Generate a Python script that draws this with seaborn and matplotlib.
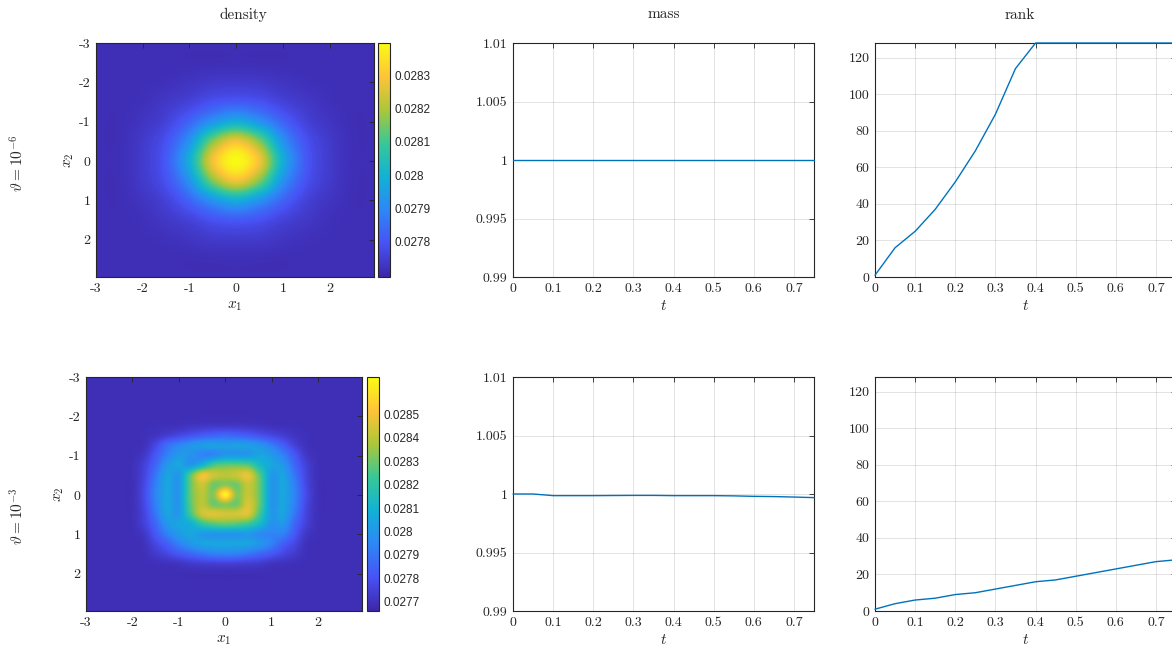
import numpy as np
import matplotlib
matplotlib.use("Agg")
import matplotlib.pyplot as plt
from matplotlib.colors import LinearSegmentedColormap, Normalize
import seaborn as sns

# ---- data ----
t = [0, 0.05, 0.1, 0.15, 0.2, 0.25, 0.3, 0.35, 0.4, 0.45, 0.5, 0.55, 0.6, 0.65, 0.7, 0.75]

mass_1e6 = [1.0, 1.0, 1.0, 1.0, 1.0, 1.0, 1.0, 1.0, 1.0, 1.0, 1.0, 1.0, 1.0, 1.0, 1.0, 1.0]
mass_1e3 = [1.0, 1.0, 0.99986, 0.99986, 0.99986, 0.99987, 0.99988, 0.99988,
            0.99986, 0.99986, 0.99986, 0.99984, 0.9998, 0.99978, 0.99974, 0.99969]

rank_1e6 = [1, 16, 25, 37, 52, 69, 89, 114, 128, 128, 128, 128, 128, 128, 128, 128]
rank_1e3 = [1, 4, 6, 7, 9, 10, 12, 14, 16, 17, 19, 21, 23, 25, 27, 28]

# density, theta = 1e-6 : 13x13 samples, x,y = -3..3 step 0.5 (units 1e-4)
dens_1e6 = [
    [277.15, 277.15, 277.15, 277.15, 277.15, 277.15, 277.15, 277.15, 277.15, 277.15, 277.15, 277.15, 277.15],
    [277.15, 277.15, 277.15, 277.15, 277.15, 277.16, 277.17, 277.16, 277.15, 277.15, 277.15, 277.15, 277.15],
    [277.15, 277.15, 277.16, 277.2, 277.3, 277.42, 277.45, 277.42, 277.3, 277.2, 277.16, 277.15, 277.15],
    [277.15, 277.15, 277.2, 277.38, 277.6, 277.95, 278.1, 277.95, 277.6, 277.38, 277.2, 277.15, 277.15],
    [277.15, 277.15, 277.3, 277.6, 278.3, 279.25, 279.9, 279.25, 278.3, 277.6, 277.3, 277.15, 277.15],
    [277.15, 277.16, 277.42, 277.95, 279.25, 281.6, 282.8, 281.6, 279.25, 277.95, 277.42, 277.16, 277.15],
    [277.15, 277.17, 277.45, 278.1, 279.9, 282.8, 283.95, 282.8, 279.9, 278.1, 277.45, 277.17, 277.15],
    [277.15, 277.16, 277.42, 277.95, 279.25, 281.6, 282.8, 281.6, 279.25, 277.95, 277.42, 277.16, 277.15],
    [277.15, 277.15, 277.3, 277.6, 278.3, 279.25, 279.9, 279.25, 278.3, 277.6, 277.3, 277.15, 277.15],
    [277.15, 277.15, 277.2, 277.38, 277.6, 277.95, 278.1, 277.95, 277.6, 277.38, 277.2, 277.15, 277.15],
    [277.15, 277.15, 277.16, 277.2, 277.3, 277.42, 277.45, 277.42, 277.3, 277.2, 277.16, 277.15, 277.15],
    [277.15, 277.15, 277.15, 277.15, 277.15, 277.16, 277.17, 277.16, 277.15, 277.15, 277.15, 277.15, 277.15],
    [277.15, 277.15, 277.15, 277.15, 277.15, 277.15, 277.15, 277.15, 277.15, 277.15, 277.15, 277.15, 277.15],
]

# density, theta = 1e-3 : 17x17 samples, x,y = -2..2 step 0.25 (units 1e-4), flat outside
dens_1e3_bg = 276.9
dens_1e3 = [
    [276.9, 276.9, 276.9, 276.9, 276.9, 276.9, 276.9, 276.9, 276.9, 276.9, 276.9, 276.9, 276.9, 276.9, 276.9, 276.9, 276.9],
    [276.9, 276.9, 276.95, 276.95, 277.0, 277.1, 277.15, 277.2, 277.2, 277.2, 277.15, 277.1, 277.0, 276.95, 276.95, 276.9, 276.9],
    [276.9, 276.95, 277.1, 277.4, 277.7, 278.0, 278.3, 278.5, 278.6, 278.5, 278.3, 278.0, 277.7, 277.4, 277.1, 276.95, 276.9],
    [276.9, 277.0, 277.7, 278.8, 279.4, 279.9, 280.2, 280.3, 280.2, 280.3, 280.2, 279.9, 279.2, 278.4, 277.5, 277.0, 276.9],
    [276.92, 277.2, 278.2, 279.3, 280.1, 279.9, 279.4, 279.5, 280.0, 280.0, 280.1, 280.5, 280.1, 279.3, 278.2, 277.2, 276.92],
    [276.95, 277.5, 278.6, 280.0, 280.5, 280.0, 281.0, 282.4, 282.8, 282.8, 282.6, 281.3, 280.5, 280.0, 278.6, 277.5, 276.95],
    [276.95, 277.6, 279.0, 280.4, 280.1, 282.6, 284.8, 284.3, 284.0, 284.3, 284.7, 282.6, 280.1, 280.4, 279.0, 277.6, 276.95],
    [276.95, 277.7, 279.3, 280.5, 280.0, 282.8, 284.3, 283.0, 283.3, 283.0, 284.2, 282.8, 280.0, 280.5, 279.3, 277.7, 276.95],
    [276.95, 277.8, 279.4, 280.5, 280.0, 282.8, 284.0, 283.3, 286.5, 283.3, 284.2, 282.8, 280.0, 280.5, 279.4, 277.8, 276.95],
    [276.95, 277.7, 279.3, 280.5, 280.0, 282.7, 284.0, 283.0, 283.3, 283.0, 284.5, 282.8, 280.0, 280.5, 279.3, 277.7, 276.95],
    [276.95, 277.6, 279.0, 280.4, 280.1, 282.3, 284.2, 284.6, 284.4, 284.4, 284.5, 282.3, 280.1, 280.4, 279.0, 277.6, 276.95],
    [276.95, 277.5, 278.6, 280.0, 280.5, 280.8, 282.0, 282.6, 282.8, 282.6, 282.2, 281.2, 279.9, 280.0, 278.6, 277.5, 276.95],
    [276.92, 277.2, 278.2, 279.3, 280.1, 280.5, 280.1, 280.0, 280.0, 280.0, 280.1, 279.6, 279.4, 279.3, 278.2, 277.2, 276.92],
    [276.9, 277.0, 277.7, 278.4, 279.3, 280.0, 280.4, 280.5, 280.5, 280.5, 280.4, 280.0, 279.3, 278.4, 277.7, 277.0, 276.9],
    [276.9, 276.95, 277.3, 277.7, 278.2, 278.6, 279.0, 279.3, 279.4, 279.3, 279.0, 278.6, 278.2, 277.7, 277.3, 276.95, 276.9],
    [276.9, 276.9, 276.95, 277.0, 277.1, 277.3, 277.4, 277.45, 277.5, 277.45, 277.4, 277.3, 277.1, 277.0, 276.95, 276.9, 276.9],
    [276.9, 276.9, 276.9, 276.9, 276.9, 276.9, 276.9, 276.9, 276.9, 276.9, 276.9, 276.9, 276.9, 276.9, 276.9, 276.9, 276.9],
]

clim_1e6 = (0.027695, 0.028396)
clim_1e3 = (0.027661, 0.028659)
cb_ticks_1e6 = [0.0278, 0.0279, 0.0280, 0.0281, 0.0282, 0.0283]
cb_labels_1e6 = ["0.0278", "0.0279", "0.028", "0.0281", "0.0282", "0.0283"]
cb_ticks_1e3 = [0.0277, 0.0278, 0.0279, 0.0280, 0.0281, 0.0282, 0.0283, 0.0284, 0.0285]
cb_labels_1e3 = ["0.0277", "0.0278", "0.0279", "0.028", "0.0281", "0.0282", "0.0283", "0.0284", "0.0285"]

row_labels = [r"$\vartheta = 10^{-6}$", r"$\vartheta = 10^{-3}$"]

# parula-like colormap
parula = LinearSegmentedColormap.from_list("parula", [
    (0.2422, 0.1504, 0.6603), (0.2810, 0.3228, 0.9579), (0.1786, 0.5289, 0.9682),
    (0.0689, 0.6948, 0.8394), (0.2161, 0.7843, 0.5923), (0.6720, 0.7793, 0.2227),
    (0.9970, 0.7659, 0.2199), (0.9769, 0.9839, 0.0805)])

sns.set_theme(style="white")
plt.rcParams.update({
    "font.family": "serif",
    "font.serif": ["cmr10"],
    "mathtext.fontset": "cm",
    "axes.unicode_minus": False,
})

W, H = 1172, 645
fig = plt.figure(figsize=(W / 100, H / 100), dpi=100)


def pos(x0, y0, x1, y1):
    return [x0 / W, 1 - y1 / H, (x1 - x0) / W, (y1 - y0) / H]


DARK = "#262626"
BLUE = (0.0, 0.447, 0.741)


def style_axes(ax):
    for s in ax.spines.values():
        s.set_color(DARK)
        s.set_linewidth(0.8)
    ax.tick_params(direction="in", top=True, right=True, length=3.5, width=0.6,
                   colors=DARK, labelsize=10, pad=4)


def density(ax, cax, grid, step, clim, ticks, labels):
    z = np.array(grid) * 1e-4
    n = z.shape[0]
    half = (n - 1) * step / 2
    if half < 3:
        pad = int(round((3 - half) / step))
        z = np.pad(z, pad, constant_values=dens_1e3_bg * 1e-4)
        half = 3
    ext = (-half - step / 2, half + step / 2, half + step / 2, -half - step / 2)
    im = ax.imshow(z, cmap=parula, norm=Normalize(*clim), extent=ext,
                   origin="upper", interpolation="catrom", aspect="auto")
    ax.set_xlim(-3, 2.95)
    ax.set_ylim(2.95, -3)
    ax.set_xticks([-3, -2, -1, 0, 1, 2], ["-3", "-2", "-1", "0", "1", "2"])
    ax.set_yticks([-3, -2, -1, 0, 1, 2], ["-3", "-2", "-1", "0", "1", "2"])
    ax.set_xlabel(r"$x_1$", fontsize=11, labelpad=3)
    ax.set_ylabel(r"$x_2$", fontsize=11, labelpad=2)
    style_axes(ax)
    cb = fig.colorbar(im, cax=cax)
    cb.set_ticks(ticks)
    cb.set_ticklabels(labels)
    cb.outline.set_edgecolor(DARK)
    cb.outline.set_linewidth(0.8)
    cax.tick_params(direction="in", length=3, width=0.6, colors=DARK, pad=3)
    for lab in cax.get_yticklabels():
        lab.set_fontfamily("Liberation Sans")
        lab.set_fontsize(8.5)


def lines(ax, y, kind):
    sns.lineplot(x=t, y=y, ax=ax, color=BLUE, lw=1.0, zorder=5, clip_on=False)
    ax.set_xlim(0, 0.75)
    ax.set_xticks([0, 0.1, 0.2, 0.3, 0.4, 0.5, 0.6, 0.7],
                  ["0", "0.1", "0.2", "0.3", "0.4", "0.5", "0.6", "0.7"])
    if kind == "mass":
        ax.set_ylim(0.99, 1.01)
        ax.set_yticks([0.99, 0.995, 1.0, 1.005, 1.01],
                      ["0.99", "0.995", "1", "1.005", "1.01"])
    else:
        ax.set_ylim(0, 128)
        ax.set_yticks([0, 20, 40, 60, 80, 100, 120],
                      ["0", "20", "40", "60", "80", "100", "120"])
    ax.grid(True, color=DARK, alpha=0.15, lw=0.6)
    ax.set_xlabel(r"$t$", fontsize=11, labelpad=3)
    ax.set_ylabel("")
    style_axes(ax)


rows = [
    dict(top=43, bot=277, dl=96, dr=374, cl=378, grid=dens_1e6, step=0.5, clim=clim_1e6,
         ticks=cb_ticks_1e6, labels=cb_labels_1e6, mass=mass_1e6, rank=rank_1e6, ly=163),
    dict(top=377, bot=611, dl=86, dr=362, cl=367, grid=dens_1e3, step=0.25, clim=clim_1e3,
         ticks=cb_ticks_1e3, labels=cb_labels_1e3, mass=mass_1e3, rank=rank_1e3, ly=516),
]

for i, r in enumerate(rows):
    ax_d = fig.add_axes(pos(r["dl"], r["top"], r["dr"], r["bot"]))
    cax = fig.add_axes(pos(r["cl"], r["top"], r["cl"] + 12, r["bot"]))
    density(ax_d, cax, r["grid"], r["step"], r["clim"], r["ticks"], r["labels"])

    ax_m = fig.add_axes(pos(513, r["top"], 814, r["bot"]))
    lines(ax_m, r["mass"], "mass")

    ax_r = fig.add_axes(pos(875, r["top"], 1176, r["bot"]))
    lines(ax_r, r["rank"], "rank")

    fig.text(18 / W, 1 - r["ly"] / H, row_labels[i], rotation=90, ha="center",
             va="center", fontsize=11, color=DARK)

fig.text(243 / W, 1 - 15 / H, "density", ha="center", va="center", fontsize=11, color=DARK)
fig.text(664 / W, 1 - 14 / H, "mass", ha="center", va="center", fontsize=11, color=DARK)
fig.text(1020 / W, 1 - 15 / H, "rank", ha="center", va="center", fontsize=11, color=DARK)

fig.savefig("out.png", dpi=100)
